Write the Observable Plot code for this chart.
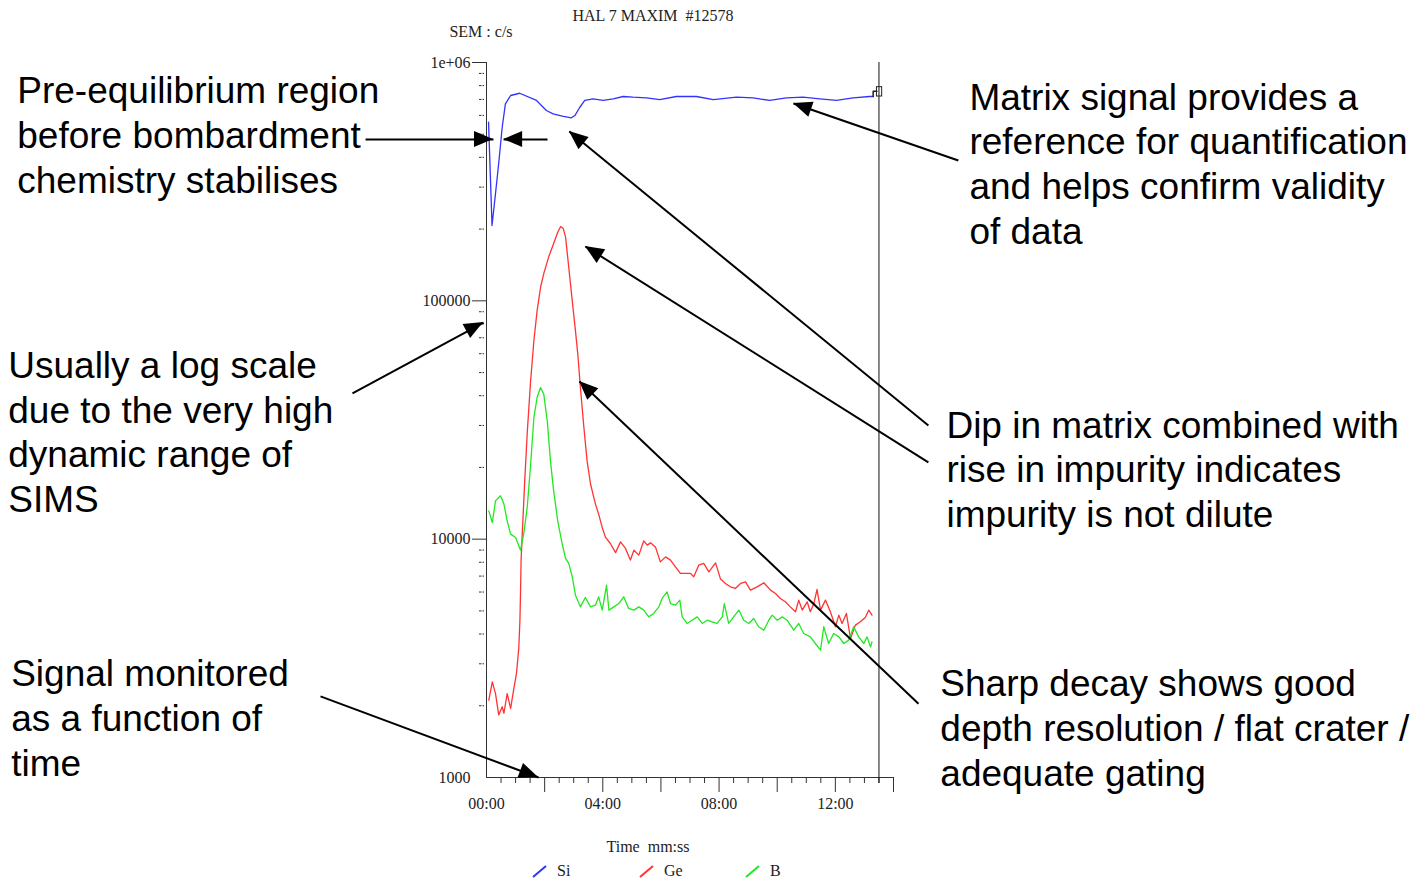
<!DOCTYPE html>
<html>
<head>
<meta charset="utf-8">
<script src="https://cdn.jsdelivr.net/npm/d3@7"></script>
<script src="https://cdn.jsdelivr.net/npm/@observablehq/plot@0.6"></script>
<style>
  html, body { margin: 0; padding: 0; background: #fff; overflow: hidden; }
  #wrap { position: relative; width: 1425px; height: 881px; overflow: hidden; font-family: "Liberation Serif", "Times New Roman", serif; color: #222; }
  #header, #footer { position: relative; width: 1425px; }
  #header { height: 44px; }
  #footer { height: 51px; }
  .lbl { position: absolute; white-space: pre; font-size: 16px; line-height: 16px; }
  #chart svg { display: block; }
</style>
</head>
<body>
<div id="wrap">
  <div id="header"></div>
  <div id="chart"></div>
  <div id="footer"></div>
</div>
<script>
// ---------------- Data ----------------
const titleText = "HAL 7 MAXIM  #12578";
const yUnitText = "SEM : c/s";
const xTitleText = "Time  mm:ss";

const seriesNames = ["Si", "Ge", "B"];
const seriesColors = ["#3333ff", "#ff3333", "#22e822"];

// Time in minutes, counts per second
const siTime = [0.07, 0.19, 0.31, 0.43, 0.54, 0.65, 0.83, 1.14, 1.72, 2.06, 2.29, 2.64, 2.92, 3.04, 3.21, 3.38, 3.67, 4.01, 4.36, 4.70, 5.04, 5.50, 5.96, 6.53, 7.22, 7.80, 8.60, 9.17, 9.74, 10.32, 10.89, 11.46, 12.04, 12.61, 13.18, 13.30];
const siCounts = [562000, 207000, 282000, 388000, 535000, 671000, 727000, 743000, 693000, 629000, 609000, 594000, 586000, 599000, 649000, 693000, 704000, 693000, 704000, 720000, 715000, 711000, 698000, 720000, 720000, 698000, 715000, 711000, 693000, 711000, 715000, 704000, 693000, 711000, 720000, 720000];

const geTime = [0.08, 0.20, 0.31, 0.42, 0.54, 0.60, 0.71, 0.83, 0.94, 1.03,
  1.11, 1.15, 1.17, 1.19, 1.23, 1.31, 1.40, 1.51, 1.63, 1.74,
  1.86, 1.97, 2.14, 2.31, 2.45, 2.55, 2.64, 2.72, 2.83, 2.95,
  3.06, 3.14, 3.23, 3.35, 3.46, 3.58, 3.75, 3.86, 3.98, 4.09,
  4.26, 4.44, 4.61, 4.78, 4.95, 5.07, 5.24, 5.41, 5.53, 5.64,
  5.81, 5.98, 6.16, 6.33, 6.50, 6.67, 6.84, 7.02, 7.13, 7.30,
  7.47, 7.65, 7.88, 8.05, 8.22, 8.39, 8.56, 8.74, 8.91, 9.08,
  9.31, 9.54, 9.77, 9.94, 10.11, 10.28, 10.45, 10.63, 10.74, 10.86,
  11.03, 11.14, 11.26, 11.37, 11.49, 11.66, 11.83, 12.00, 12.12, 12.23,
  12.38, 12.52, 12.69, 12.86, 13.03, 13.15, 13.26];
const geCounts = [2110, 2520, 2250, 1830, 1980, 1860, 2250, 1950, 2360, 2730,
  3480, 4570, 5940, 8170, 10500, 17100, 27700, 44900, 68000, 90800,
  114000, 130000, 153000, 174000, 194000, 205000, 201000, 185000, 138000, 100000,
  74800, 59800, 43300, 29400, 21300, 17000, 14000, 12700, 11200, 10200,
  9590, 8780, 9740, 9140, 8170, 8990, 8570, 9840, 9440, 9650,
  9280, 8030, 8430, 8170, 7650, 7180, 7180, 7180, 6950, 7780,
  7910, 7290, 7950, 6800, 6520, 6310, 6210, 6520, 6620, 6110,
  6310, 6560, 6110, 5920, 5640, 5460, 5200, 4960, 5550, 5040,
  5460, 4960, 5370, 6150, 5040, 5550, 4960, 4290, 4800, 4430,
  4880, 3830, 4360, 4500, 4690, 5040, 4800];

const bTime = [0.08, 0.20, 0.31, 0.48, 0.60, 0.71, 0.83, 1.00, 1.17, 1.28,
  1.40, 1.51, 1.63, 1.74, 1.86, 1.97, 2.09, 2.20, 2.31, 2.45,
  2.60, 2.72, 2.83, 2.95, 3.06, 3.23, 3.40, 3.58, 3.75, 3.86,
  3.98, 4.13, 4.21, 4.38, 4.55, 4.72, 4.89, 5.07, 5.24, 5.41,
  5.58, 5.75, 5.93, 6.04, 6.21, 6.33, 6.50, 6.65, 6.73, 6.90,
  7.07, 7.25, 7.42, 7.59, 7.76, 7.93, 8.11, 8.18, 8.33, 8.50,
  8.68, 8.85, 9.02, 9.19, 9.36, 9.54, 9.71, 9.83, 10.00, 10.17,
  10.34, 10.57, 10.74, 10.91, 11.14, 11.31, 11.49, 11.60, 11.77, 11.94,
  12.12, 12.29, 12.46, 12.63, 12.80, 12.98, 13.09, 13.21, 13.26];
const bCounts = [13150, 11740, 14480, 15200, 14030, 11940, 10500, 10160, 8990, 10500,
  13570, 19980, 32380, 39300, 43280, 40600, 31370, 21310, 15950, 11940,
  9590, 8300, 7910, 6950, 5820, 5200, 5690, 5200, 5290, 5730,
  5040, 6410, 5040, 5200, 5370, 5730, 5120, 5040, 5200, 5040,
  4720, 4880, 5200, 5640, 6010, 5370, 5290, 5550, 4720, 4430,
  4570, 4720, 4430, 4570, 4500, 4430, 4720, 5370, 4430, 4720,
  5040, 4570, 4430, 4650, 4290, 4150, 4570, 4800, 4570, 4720,
  4570, 4150, 4430, 4020, 3890, 3650, 3420, 4290, 3650, 4020,
  3890, 3650, 3770, 4290, 3890, 3650, 3890, 3530, 3710];

// Cursor marker at the end of the acquisition
const cursorTime = 13.5;
const cursorStepTime = [13.30, 13.30, 13.43];
const cursorStepCounts = [720000, 758000, 758000];
const cursorBoxTime = [13.43, 13.61];
const cursorBoxCounts = [720000, 788000];

// Axis ticks
const xDomain = [0, 14];
const yDomain = [1000, 1e6];
const xLabelTicks = [0, 4, 8, 12];
const xMajorTicks = [2, 4, 6, 8, 10, 12, 14];
const xMinorTicks = [0.5, 1, 1.5, 2.5, 3, 3.5, 4.5, 5, 5.5, 6.5, 7, 7.5, 8.5, 9, 9.5, 10.5, 11, 11.5, 12.5, 13, 13.5];
const yLabelTicks = [1000, 10000, 100000, 1e6];
const yMajorTicks = [10000, 100000, 1e6];
const yMinorTicks = [1000, 10000, 100000].flatMap(d => [2, 3, 4, 5, 6, 7, 8, 9].map(k => k * d));

// Annotations (anchored in data coordinates: time, counts)
const annoText = [
  "Pre-equilibrium region\nbefore bombardment\nchemistry stabilises",
  "Matrix signal provides a\nreference for quantification\nand helps confirm validity\nof data",
  "Usually a log scale\ndue to the very high\ndynamic range of\nSIMS",
  "Dip in matrix combined with\nrise in impurity indicates\nimpurity is not dilute",
  "Signal monitored\nas a function of\ntime",
  "Sharp decay shows good\ndepth resolution / flat crater /\nadequate gating"
];
const annoTime = [-16.14, 16.61, -16.45, 15.82, -16.35, 15.61];
const annoCounts = [502000, 381000, 28500, 19900, 1800, 1630];

const arrowFromTime = [-4.16, 2.10, 15.20, 15.20, 16.23, 14.86, -4.61, -5.71];
const arrowFromCounts = [475000, 475000, 30000, 21000, 388000, 2040, 40900, 2190];
const arrowToTime = [0.24, 0.59, 2.85, 3.40, 10.56, 3.20, -0.10, 1.79];
const arrowToCounts = [475000, 475000, 513000, 169000, 673000, 45900, 81100, 1000];

// ---------------- Build ----------------
const mmss = t => String(Math.floor(t)).padStart(2, "0") + ":" + String(Math.round((t % 1) * 60)).padStart(2, "0");
const yFmt = v => v >= 1e6 ? v.toExponential(0).replace(/e\+(\d)$/, "e+0$1") : String(v);

const rows = (T, C) => T.map((t, i) => ({t, c: C[i]}));
const siRows = rows(siTime, siCounts);
const geRows = rows(geTime, geCounts);
const bRows = rows(bTime, bCounts);
const arrows = arrowToTime.map((_, i) => ({x1: arrowFromTime[i], y1: arrowFromCounts[i], x2: arrowToTime[i], y2: arrowToCounts[i]}));

const axisColor = "#333";

function arrowHeads(index, scales) {
  const sx = typeof scales.x === "function" ? scales.x : scales.scales.x.apply;
  const sy = typeof scales.y === "function" ? scales.y : scales.scales.y.apply;
  const g = d3.create("svg:g");
  const L = 19, W = 8;
  for (const a of arrows) {
    const x1 = sx(a.x1), y1 = sy(a.y1), x2 = sx(a.x2), y2 = sy(a.y2);
    const ang = Math.atan2(y2 - y1, x2 - x1);
    const bx = x2 - L * Math.cos(ang), by = y2 - L * Math.sin(ang);
    const px = -Math.sin(ang) * W, py = Math.cos(ang) * W;
    g.append("path")
      .attr("d", `M${x2},${y2}L${bx + px},${by + py}L${bx - px},${by - py}Z`)
      .attr("fill", "#000");
  }
  return g.node();
}

const chart = Plot.plot({
  width: 1425,
  height: 786,
  marginLeft: 486,
  marginRight: 532,
  marginTop: 18,
  marginBottom: 53,
  x: {domain: xDomain, axis: null},
  y: {type: "log", domain: yDomain, axis: null},
  style: {fontFamily: "'Liberation Serif', 'Times New Roman', serif", fontSize: "16px", background: "white", color: "#222", overflow: "visible"},
  marks: [
    // y axis
    Plot.ruleX([0], {y1: yDomain[1], y2: yDomain[0], stroke: axisColor}),
    Plot.ruleY(yMajorTicks, {x1: 0, x2: 0, insetLeft: -14, stroke: axisColor}),
    Plot.ruleY(yMinorTicks, {x1: 0, x2: 0, insetLeft: -7, insetRight: 2, stroke: axisColor, strokeDasharray: "2.5,1"}),
    Plot.text(yLabelTicks, {x: 0, y: d => d, text: yFmt, dx: -16, textAnchor: "end", fill: "#222"}),
    // x axis
    Plot.ruleY([yDomain[0]], {x1: xDomain[0], x2: xDomain[1], stroke: axisColor}),
    Plot.ruleX(xMinorTicks, {y1: yDomain[0], y2: yDomain[0], insetBottom: -6, stroke: axisColor}),
    Plot.ruleX(xMajorTicks, {y1: yDomain[0], y2: yDomain[0], insetBottom: -15, stroke: axisColor}),
    Plot.text(xLabelTicks, {x: d => d, y: yDomain[0], text: mmss, dy: 26, fill: "#222"}),
    // cursor
    Plot.ruleX([cursorTime], {y1: yDomain[1], y2: yDomain[0], insetBottom: -6, stroke: "#111"}),
    // series
    Plot.line(siRows, {x: "t", y: "c", stroke: seriesColors[0], strokeWidth: 1.3}),
    Plot.line(geRows, {x: "t", y: "c", stroke: seriesColors[1], strokeWidth: 1.3}),
    Plot.line(bRows, {x: "t", y: "c", stroke: seriesColors[2], strokeWidth: 1.3}),
    Plot.line(cursorStepTime.map((t, i) => ({t, c: cursorStepCounts[i]})), {x: "t", y: "c", stroke: "#222"}),
    Plot.rect([0], {x1: cursorBoxTime[0], x2: cursorBoxTime[1], y1: cursorBoxCounts[0], y2: cursorBoxCounts[1], fill: "none", stroke: "#222"}),
    // annotations
    Plot.link(arrows, {x1: "x1", y1: "y1", x2: "x2", y2: "y2", stroke: "#000", strokeWidth: 2}),
    arrowHeads,
    Plot.text(annoText, {
      x: (d, i) => annoTime[i], y: (d, i) => annoCounts[i], text: d => d,
      textAnchor: "start", lineAnchor: "middle", lineHeight: 1.21,
      fontFamily: "'Liberation Sans', Arial, sans-serif", fontSize: 37, fill: "#000"
    })
  ]
});
document.getElementById("chart").appendChild(chart);

// header / footer text (title, unit, axis title, legend)
const header = document.getElementById("header");
const footer = document.getElementById("footer");
function label(parent, text, left, top, center) {
  const d = document.createElement("div");
  d.className = "lbl";
  d.textContent = text;
  d.style.left = left + "px";
  d.style.top = top + "px";
  if (center) d.style.transform = "translateX(-50%)";
  parent.appendChild(d);
  return d;
}
label(header, titleText, 653, 8, true);
label(header, yUnitText, 481, 24, true);
label(footer, xTitleText, 648, 9, true);

const legendX = [533, 640, 746];
seriesNames.forEach((name, i) => {
  const svg = d3.create("svg").attr("width", 16).attr("height", 14)
    .style("position", "absolute").style("left", (legendX[i] - 1) + "px").style("top", "35px");
  svg.append("line").attr("x1", 1).attr("y1", 12).attr("x2", 14).attr("y2", 1)
    .attr("stroke", seriesColors[i]).attr("stroke-width", 2);
  footer.appendChild(svg.node());
  label(footer, name, legendX[i] + 24, 33, false);
});
</script>
</body>
</html>
